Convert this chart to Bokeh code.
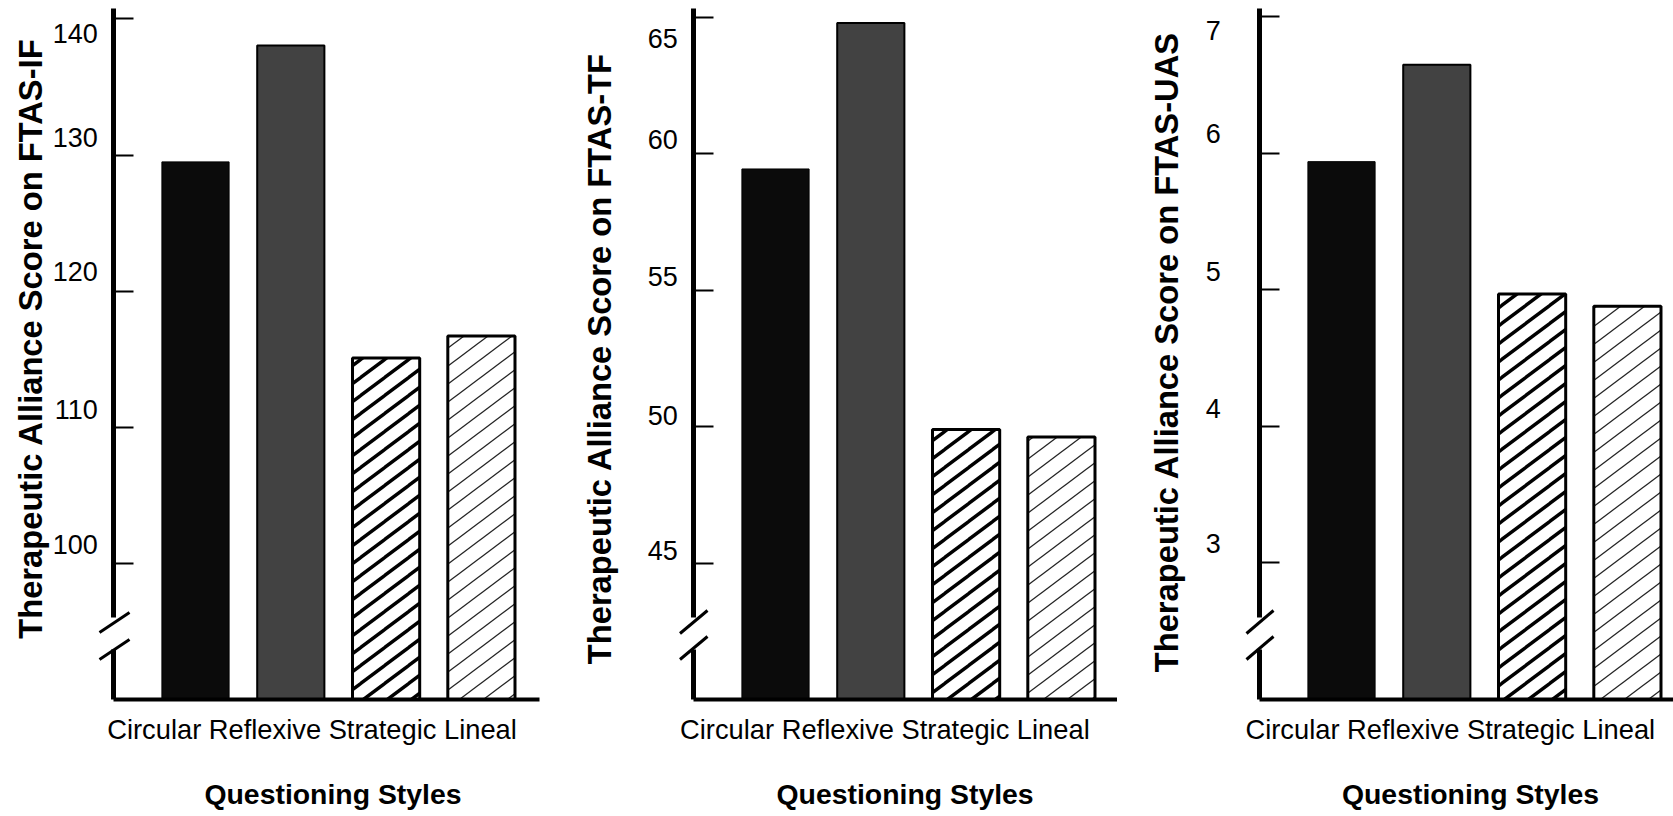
import base64
import math
from bokeh.plotting import figure
from bokeh.layouts import row
from bokeh.models import (ColumnDataSource, Range1d, FixedTicker, LabelSet,
                          BoxAnnotation, Arrow, ImageURLTexture)
from bokeh.core.properties import value
from bokeh.embed import file_html
from bokeh.resources import INLINE

# ---------------- data ----------------
categories = ["Circular", "Reflexive", "Strategic", "Lineal"]
x_axis_title = "Questioning Styles"

titles = ["Therapeutic Alliance Score on FTAS-IF",
          "Therapeutic Alliance Score on FTAS-TF",
          "Therapeutic Alliance Score on FTAS-UAS"]

ftas_if = [129.5, 138.05, 115.1, 116.7]
ftas_tf = [59.44, 64.79, 49.89, 49.62]
ftas_uas = [5.94, 6.65, 4.97, 4.88]

ticks_if = [100, 110, 120, 130, 140]
ticks_tf = [45, 50, 55, 60, 65]
ticks_uas = [3, 4, 5, 6, 7]

# value at the (broken) baseline and at the top of each axis
base_if, base_tf, base_uas = 90, 40, 2
top_if, top_tf, top_uas = 140.77, 65.32, 7.062

# ---------------- styles ----------------
def hatch_tile(stroke, width):
    w, h = 24, 18
    lines = "".join(
        f'<line x1="{x0}" y1="{y0}" x2="{x1}" y2="{y1}" stroke="{stroke}" stroke-width="{width}"/>'
        for (x0, y0, x1, y1) in [(-24, 18, 24, -18), (0, 18, 24, 0), (0, 36, 48, 0)])
    svg = (f'<svg xmlns="http://www.w3.org/2000/svg" width="{w}" height="{h}" '
           f'viewBox="0 0 {w} {h}">{lines}</svg>')
    return ImageURLTexture(url="data:image/svg+xml;base64," +
                           base64.b64encode(svg.encode()).decode())


hatch_textures = {"heavy": hatch_tile("#000000", 3.4), "light": hatch_tile("#222222", 1.3)}

bar_fill = ["#0b0b0b", "#424242", "#ffffff", "#ffffff"]
bar_line_width = [1, 2, 3, 3]
bar_hatch = [" ", " ", "heavy", "light"]

FIG_H = 816
AXIS_TOP = 8                     # px from top of a panel to the top of its y axis
BASE_FROM_TOP = 699              # px from top of a panel to its baseline
BASE_Y = FIG_H - BASE_FROM_TOP   # px from bottom of a panel to its baseline
PPX = 95.3                       # px per category step
FIRST = 82                       # px from y axis to first bar centre
X_AXIS = -FIRST / PPX
BAR_W = 0.705
FONT = "Liberation Sans"

layouts = [
    dict(width=560, ax=113, line_end=539, title_x=-71.3, title_y=361,
         cat_x=-6.3, qs_x=219.5, tick_x=-15.7, tick_dy=[9.2, 8.1, 10, 8.2, -23.9],
         slashes=((-14, 67, 16, 87), (-14, 40, 16, 60))),
    dict(width=557, ax=133, line_end=557, title_x=-83, title_y=341,
         cat_x=-13.4, qs_x=211.6, tick_x=-15.7, tick_dy=[3.4, 1.4, 4, 4.3, -30.5],
         slashes=((-13.5, 66, 14, 89), (-13.5, 40, 14, 63))),
    dict(width=556, ax=142, line_end=556, title_x=-81.7, title_y=347.5,
         cat_x=-14, qs_x=211, tick_x=-38.7, tick_dy=[10, 8, 8.5, 10, -23],
         slashes=((-13, 66, 14, 89), (-13, 40, 14, 63))),
]


def add_text(p, x, y, text, size, bold=False, align="left", angle=0.0):
    src = ColumnDataSource(dict(x=[x], y=[y], text=[text]))
    p.add_layout(LabelSet(x="x", y="y", text="text", source=src,
                          x_units="screen", y_units="screen", angle=angle,
                          text_align=align, text_baseline="alphabetic",
                          text_font=value(FONT),
                          text_font_style=value("bold" if bold else "normal"),
                          text_font_size=value(size), text_color="black"))


def make_panel(values, ticks, base, top, title, lay):
    W, ax = lay["width"], lay["ax"]
    x_start = -(ax + FIRST) / PPX
    x_end = (W - ax - FIRST) / PPX
    ppu = (BASE_FROM_TOP - AXIS_TOP) / (top - base)
    y_start = base - BASE_Y / ppu
    y_end = top + AXIS_TOP / ppu

    p = figure(width=W, height=FIG_H,
               x_range=Range1d(x_start, x_end), y_range=Range1d(y_start, y_end),
               output_backend="svg", toolbar_location=None, min_border=0,
               background_fill_color="white", border_fill_color="white",
               outline_line_color=None)
    p.grid.visible = False

    xs = list(range(len(categories)))
    src = ColumnDataSource(dict(x=xs, top=values, fill=bar_fill, lw=bar_line_width,
                                hatch=bar_hatch))
    p.vbar(x="x", top="top", bottom=base, width=BAR_W, source=src,
           fill_color="fill", line_color="black", line_width="lw",
           hatch_pattern="hatch", hatch_extra=hatch_textures, hatch_color="black")

    xa = p.xaxis[0]
    xa.fixed_location = base
    xa.bounds = (X_AXIS, (lay["line_end"] - ax - FIRST) / PPX)
    xa.ticker = FixedTicker(ticks=[])
    xa.axis_line_width = 4
    xa.axis_line_color = "black"
    xa.major_tick_line_color = None
    xa.minor_tick_line_color = None

    ya = p.yaxis[0]
    ya.fixed_location = X_AXIS
    ya.bounds = (base, top)
    ya.ticker = FixedTicker(ticks=ticks)
    ya.axis_line_width = 5
    ya.axis_line_color = "black"
    ya.major_tick_in = 20
    ya.major_tick_out = 0
    ya.major_tick_line_width = 2
    ya.minor_tick_line_color = None
    ya.major_label_overrides = {t: "" for t in ticks}

    # tick labels
    tsrc = ColumnDataSource(dict(x=[X_AXIS] * len(ticks), y=ticks,
                                 text=[str(t) for t in ticks], dy=lay["tick_dy"]))
    p.add_layout(LabelSet(x="x", y="y", text="text", y_offset="dy", x_offset=lay["tick_x"],
                          source=tsrc, text_align="right", text_baseline="alphabetic",
                          text_font=value(FONT), text_font_size="27px", text_color="black"))

    # axis break
    p.add_layout(BoxAnnotation(left=ax - 7, right=ax + 7, bottom=BASE_Y + 50, top=BASE_Y + 82,
                               left_units="screen", right_units="screen",
                               bottom_units="screen", top_units="screen",
                               fill_color="white", fill_alpha=1, line_color=None))
    for (x0, y0, x1, y1) in lay["slashes"]:
        p.add_layout(Arrow(end=None, x_start=ax + x0, y_start=BASE_Y + y0,
                           x_end=ax + x1, y_end=BASE_Y + y1,
                           start_units="screen", end_units="screen",
                           line_color="black", line_width=3))

    # y title (vertical)
    add_text(p, ax + lay["title_x"], BASE_Y + lay["title_y"], title, "32.7px",
             bold=True, align="center", angle=math.pi / 2)
    # category names (one line, as in the original)
    add_text(p, ax + lay["cat_x"], BASE_Y - 39.3, " ".join(categories), "27.3px")
    # x title
    add_text(p, ax + lay["qs_x"], BASE_Y - 104.5, x_axis_title, "28.4px",
             bold=True, align="center")
    return p


p1 = make_panel(ftas_if, ticks_if, base_if, top_if, titles[0], layouts[0])
p2 = make_panel(ftas_tf, ticks_tf, base_tf, top_tf, titles[1], layouts[1])
p3 = make_panel(ftas_uas, ticks_uas, base_uas, top_uas, titles[2], layouts[2])

page = row(p1, p2, p3)
open("out.html", "w").write(file_html(page, INLINE))
